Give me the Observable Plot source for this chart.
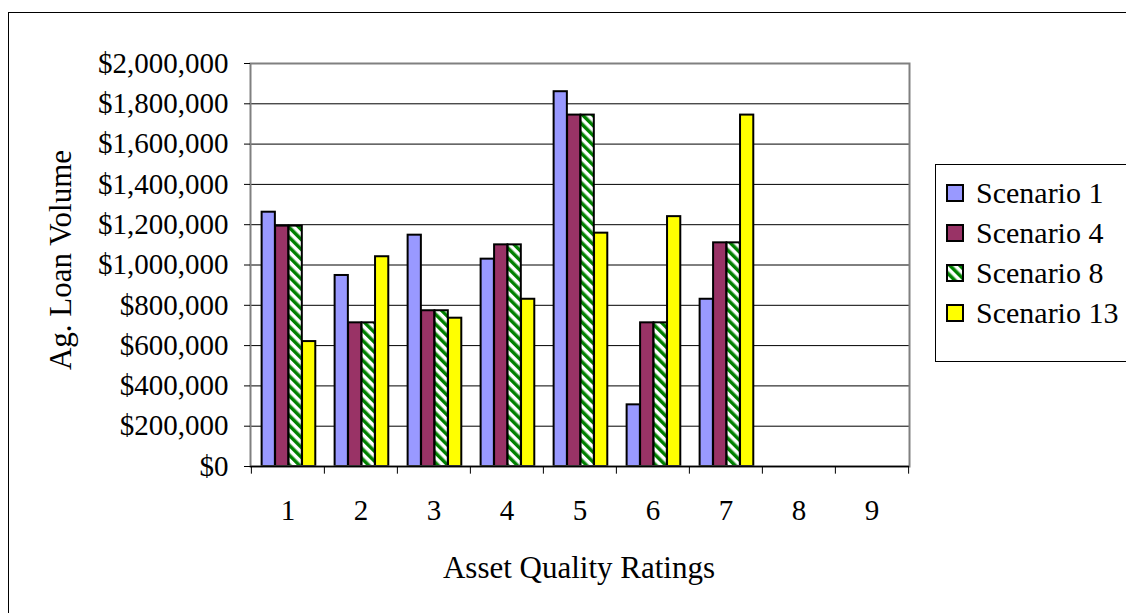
<!DOCTYPE html>
<html>
<head>
<meta charset="utf-8">
<script src="https://cdn.jsdelivr.net/npm/d3@7"></script>
<script src="https://cdn.jsdelivr.net/npm/@observablehq/plot@0.6"></script>
<style>
html, body { margin: 0; padding: 0; background: #fff; overflow: hidden; }
#wrap { position: relative; width: 1126px; height: 613px; font-family: "Liberation Serif", "Times New Roman", serif; color: #000; }
#outer { position: absolute; left: 8px; top: 12px; width: 1200px; height: 700px; border: 1.5px solid #000; }
#chart { position: absolute; left: 0; top: 0; }
#legend { position: absolute; left: 935px; top: 164px; width: 230px; height: 196px; border: 1.5px solid #000; background: #fff; font-family: "Liberation Serif", "Times New Roman", serif; }
.item { position: absolute; left: 10px; height: 40px; display: flex; align-items: center; font-size: 30px; white-space: nowrap; font-family: "Liberation Serif", "Times New Roman", serif; }
.item span { font-family: "Liberation Serif", "Times New Roman", serif; }
.item svg { margin-right: 12px; }
#xtitle { position: absolute; left: 0; width: 1158px; top: 548px; text-align: center; font-size: 31px; line-height: 40px; }
#ytitle { position: absolute; left: 61px; top: 260px; font-size: 31px; line-height: 36px; white-space: nowrap; transform: translate(-50%, -50%) rotate(-90deg); }
</style>
</head>
<body>
<div id="wrap">
  <div id="outer"></div>
  <div id="chart"></div>
  <div id="legend"></div>
  <div id="xtitle">Asset Quality Ratings</div>
  <div id="ytitle">Ag. Loan Volume</div>
</div>
<script>
// ---- data ----
const categories = ["1", "2", "3", "4", "5", "6", "7", "8", "9"];
const scenarios = ["Scenario 1", "Scenario 4", "Scenario 8", "Scenario 13"];
const scenario1  = [1262000,  948000, 1148000, 1029000, 1860000,  306000,  830000, 0, 0];
const scenario4  = [1193000,  713000,  773000, 1100000, 1744000,  713000, 1110000, 0, 0];
const scenario8  = [1193000,  713000,  773000, 1100000, 1744000,  713000, 1110000, 0, 0];
const scenario13 = [ 620000, 1041000,  736000,  830000, 1158000, 1240000, 1744000, 0, 0];
const yTicks = [0, 200000, 400000, 600000, 800000, 1000000, 1200000, 1400000, 1600000, 1800000, 2000000];

// ---- styles ----
const fills = ["#9999FF", "#993366", "url(#stripes)", "#FFFF00"];
const W = 1126, H = 613, ML = 250, MR = 217, MT = 63, MB = 147;
const bw = (W - ML - MR) / categories.length;
const groupOffset = 0.145 * bw, barWidth = 0.184 * bw;

const series = [scenario1, scenario4, scenario8, scenario13];
const rows = series.map(vals => categories.map((c, i) => ({cat: c, value: vals[i]})));

const barMarks = rows.map((r, i) => Plot.barY(r, {
  x: "cat", y: "value",
  filter: d => d.value > 0,
  fill: fills[i], stroke: "#000", strokeWidth: 2,
  insetLeft: groupOffset + i * barWidth,
  insetRight: bw - groupOffset - (i + 1) * barWidth
}));

const fmt = d => "$" + d3.format(",")(d);

const chart = Plot.plot({
  width: W, height: H,
  marginLeft: ML, marginRight: MR, marginTop: MT, marginBottom: MB,
  style: {background: "transparent", fontFamily: "'Liberation Serif', 'Times New Roman', serif", fontSize: "29px", color: "#000", overflow: "visible"},
  x: {type: "band", domain: categories, padding: 0, label: null},
  y: {domain: [0, 2000000], label: null},
  marks: [
    Plot.ruleY(yTicks.slice(1, -1), {stroke: "#000", strokeWidth: 1}),
    ...barMarks,
    Plot.frame({stroke: "#808080", strokeWidth: 2}),
    Plot.ruleY([0], {stroke: "#000", strokeWidth: 1.5}),
    Plot.ruleX(categories, {x: d => d, dx: -bw / 2, y1: 0, y2: -38000, stroke: "#000", strokeWidth: 1}),
    Plot.ruleX(categories.slice(-1), {x: d => d, dx: bw / 2, y1: 0, y2: -38000, stroke: "#000", strokeWidth: 1}),
    Plot.axisY({ticks: yTicks, tickFormat: fmt, tickSize: 6, tickPadding: 16, label: null}),
    Plot.axisX({tickSize: 0, tickPadding: 33, label: null})
  ]
});

// pattern definition for Scenario 8
const defs = d3.select(chart).insert("defs", ":first-child");
const pat = defs.append("pattern")
  .attr("id", "stripes").attr("patternUnits", "userSpaceOnUse")
  .attr("width", 7).attr("height", 7).attr("patternTransform", "rotate(-45)");
pat.append("rect").attr("width", 7).attr("height", 7).attr("fill", "#fff");
pat.append("rect").attr("width", 3.5).attr("height", 7).attr("fill", "#008000");

document.getElementById("chart").appendChild(chart);

// legend
const legend = document.getElementById("legend");
scenarios.forEach((s, i) => {
  const item = document.createElement("div");
  item.className = "item";
  item.style.top = (8 + i * 40) + "px";
  item.innerHTML = `<svg width="18" height="18"><rect x="1" y="1" width="16" height="16" fill="${fills[i]}" stroke="#000" stroke-width="2"/></svg><span>${s}</span>`;
  legend.appendChild(item);
});
</script>
</body>
</html>
